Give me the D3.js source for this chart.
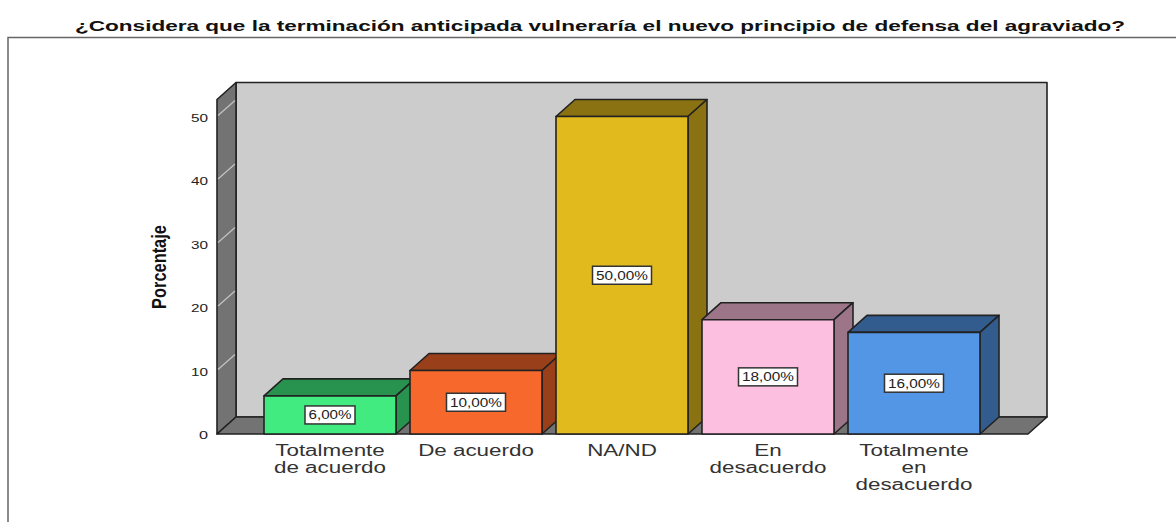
<!DOCTYPE html>
<html><head><meta charset="utf-8">
<script src="https://cdn.jsdelivr.net/npm/d3@7/dist/d3.min.js"></script>
<style>html,body{margin:0;padding:0;background:#fff}svg{display:block}text{font-family:"Liberation Sans",Arial,sans-serif}</style>
</head><body><svg id="c" width="1176" height="522"></svg>
<script>
const chartTitle = "¿Considera que la terminación anticipada vulneraría el nuevo principio de defensa del agraviado?";
const yLabel = "Porcentaje";
const categories = ["Totalmente de acuerdo","De acuerdo","NA/ND","En desacuerdo","Totalmente en desacuerdo"];
const categoryLines = [["Totalmente","de acuerdo"],["De acuerdo"],["NA/ND"],["En","desacuerdo"],["Totalmente","en","desacuerdo"]];
const values = [6,10,50,18,16];
const valueLabels = ["6,00%","10,00%","50,00%","18,00%","16,00%"];
const frontColors = ["#41EB7F","#F6682B","#E1BB1E","#FDBFE0","#5396E6"];
const topColors = ["#28924F","#993F1A","#8A7212","#9C7688","#335C8E"];
const yTicks = [0,10,20,30,40,50];

const svg = d3.select("#c");
const dx = 19, dy = -17;
const y = d3.scaleLinear().domain([0,50]).range([434,116.5]);
const wallTop = 99.5;
const x = d3.scaleBand().domain(categories).range([257,987]).paddingInner(14/146).paddingOuter(7/146);
const ink = "#222";
const poly = (pts,fill,g=svg)=>g.append("polygon").attr("points",pts.map(p=>p.join(",")).join(" ")).attr("fill",fill).attr("stroke",ink).attr("stroke-width",1.6).attr("stroke-linejoin","round");

// outer frame
svg.append("path").attr("d","M8,522V37.5H1176").attr("fill","none").attr("stroke","#666").attr("stroke-width",1.5);

// title
svg.append("text").attr("x",600).attr("y",31).attr("text-anchor","middle").attr("font-size",15.5).attr("font-weight","bold").attr("fill","#111")
  .attr("textLength",1050).attr("lengthAdjust","spacingAndGlyphs").text(chartTitle);

// chart walls
const xL=217, xR=1028, y0=y(0);
poly([[xL+dx,y0+dy],[xR+dx,y0+dy],[xR+dx,wallTop+dy],[xL+dx,wallTop+dy]],"#CCCCCC");
poly([[xL,y0],[xL+dx,y0+dy],[xL+dx,wallTop+dy],[xL,wallTop]],"#737373");
poly([[xL,y0],[xR,y0],[xR+dx,y0+dy],[xL+dx,y0+dy]],"#737373");

// wall gridlines
svg.append("g").selectAll("line").data(yTicks.filter(d=>d>0)).join("line")
  .attr("x1",xL+1).attr("x2",xL+dx-1).attr("y1",d=>y(d)-1).attr("y2",d=>y(d)+dy+1).attr("stroke","#C4C4C4").attr("stroke-width",1.2);

// axis
const axis = d3.axisLeft(y).tickValues(yTicks).tickSize(0).tickPadding(9).tickFormat(d3.format("d"));
const ga = svg.append("g").attr("transform",`translate(${xL},1)`).call(axis);
ga.select(".domain").remove();
ga.selectAll("text").attr("font-size",11.5).attr("font-family",'"Liberation Sans",Arial,sans-serif').attr("fill","#222")
  .attr("textLength",17).attr("lengthAdjust","spacingAndGlyphs");
ga.selectAll(".tick").filter(d=>d===0).select("text").attr("textLength",9);

// y label
svg.append("text").attr("transform","translate(165.5,267) rotate(-90) scale(0.82,1)").attr("text-anchor","middle")
  .attr("font-size",20).attr("font-weight","bold").attr("fill","#111").text(yLabel);

// bars
categories.forEach((c,i)=>{
  const g = svg.append("g");
  const a=x(c), b=a+x.bandwidth(), t=y(values[i]);
  poly([[a,t],[a+dx,t+dy],[b+dx,t+dy],[b,t]],topColors[i],g);
  poly([[b,t],[b+dx,t+dy],[b+dx,y0+dy],[b,y0]],topColors[i],g);
  poly([[a,t],[b,t],[b,y0],[a,y0]],frontColors[i],g);
  const cx=(a+b)/2, cy=(t+y0)/2;
  const w = valueLabels[i].length>5 ? 59 : 50;
  g.append("rect").attr("x",cx-w/2).attr("y",cy-9).attr("width",w).attr("height",18).attr("fill","#fff").attr("stroke","#333").attr("stroke-width",1.5);
  g.append("text").attr("x",cx).attr("y",cy+4.5).attr("text-anchor","middle").attr("font-size",12).attr("fill","#222")
    .attr("textLength",w-7).attr("lengthAdjust","spacingAndGlyphs").text(valueLabels[i]);
  categoryLines[i].forEach((l,k)=>{
    g.append("text").attr("transform",`translate(${cx},${456+k*17}) scale(1.4,1)`).attr("text-anchor","middle")
      .attr("font-size",16).attr("fill","#333").text(l);
  });
});
</script></body></html>
